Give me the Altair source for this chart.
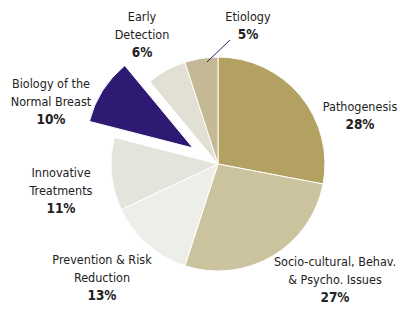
import altair as alt
import pandas as pd

categories = ["Pathogenesis", "Socio-cultural, Behav. & Psycho. Issues",
              "Prevention & Risk Reduction", "Innovative Treatments",
              "Biology of the Normal Breast", "Early Detection", "Etiology"]
values = [28, 27, 13, 11, 10, 6, 5]
label_lines = [["Pathogenesis"], ["Socio-cultural, Behav.", "& Psycho. Issues"],
               ["Prevention & Risk", "Reduction"], ["Innovative", "Treatments"],
               ["Biology of the", "Normal Breast"], ["Early", "Detection"], ["Etiology"]]
colors = ["#b3a162", "#cbc29e", "#eeeee8", "#e4e4dc", "#2e1a72", "#e2e0d4", "#c4b994"]
exploded = "Biology of the Normal Breast"

# layout (plot-area pixels): label anchors (center x, first line y)
label_pos = [(352, 99), (327, 254), (94, 252), (53, 165), (43, 76), (134, 9), (240, 9)]
line_step = 18
center = (210, 156)
explode_shift = (-25, -16)
radius = 107

pie = pd.DataFrame({"cat": categories, "value": values, "idx": list(range(len(values)))})
pie["exp"] = pie["cat"] == exploded

name_rows, pct_rows = [], []
for c, v, lines, (lx, ly) in zip(categories, values, label_lines, label_pos):
    for i, t in enumerate(lines):
        name_rows.append({"t": t, "x": lx, "y": ly + i * line_step})
    pct_rows.append({"t": f"{v}%", "x": lx, "y": ly + len(lines) * line_step})
names = pd.DataFrame(name_rows)
pcts = pd.DataFrame(pct_rows)

color = alt.Color("cat:N", scale=alt.Scale(domain=categories, range=colors), legend=None)
base = alt.Chart(pie).encode(
    theta=alt.Theta("value:Q", stack=True),
    order=alt.Order("idx:Q"),
    color=color,
)
main = base.mark_arc(x=center[0], y=center[1], radius=radius, stroke="white", strokeWidth=1).encode(
    opacity=alt.condition("datum.exp", alt.value(0), alt.value(1))
)
exp = base.mark_arc(x=center[0] + explode_shift[0], y=center[1] + explode_shift[1], radius=radius,
                    stroke="white", strokeWidth=1).encode(
    opacity=alt.condition("datum.exp", alt.value(1), alt.value(0))
)

font = "DejaVu Sans Condensed, sans-serif"
name_txt = alt.Chart(names).mark_text(font=font, fontSize=12.5, color="#222222", baseline="middle").encode(
    x=alt.X("x:Q", scale=None), y=alt.Y("y:Q", scale=None), text="t:N")
pct_txt = alt.Chart(pcts).mark_text(font=font, fontSize=13.5, fontWeight="bold", color="#222222",
                                    baseline="middle").encode(
    x=alt.X("x:Q", scale=None), y=alt.Y("y:Q", scale=None), text="t:N")

leader = pd.DataFrame({"x": [222], "y": [32], "x2": [199], "y2": [54]})
line = alt.Chart(leader).mark_rule(color="#2e1a72", strokeWidth=1).encode(
    x=alt.X("x:Q", scale=None), y=alt.Y("y:Q", scale=None),
    x2="x2:Q", y2="y2:Q")

chart = alt.layer(main, exp, line, name_txt, pct_txt).properties(
    width=391, height=299, padding=0, autosize="none"
).configure_view(stroke=None)

chart.save("out.html", embed_options={"renderer": "svg", "actions": False})
